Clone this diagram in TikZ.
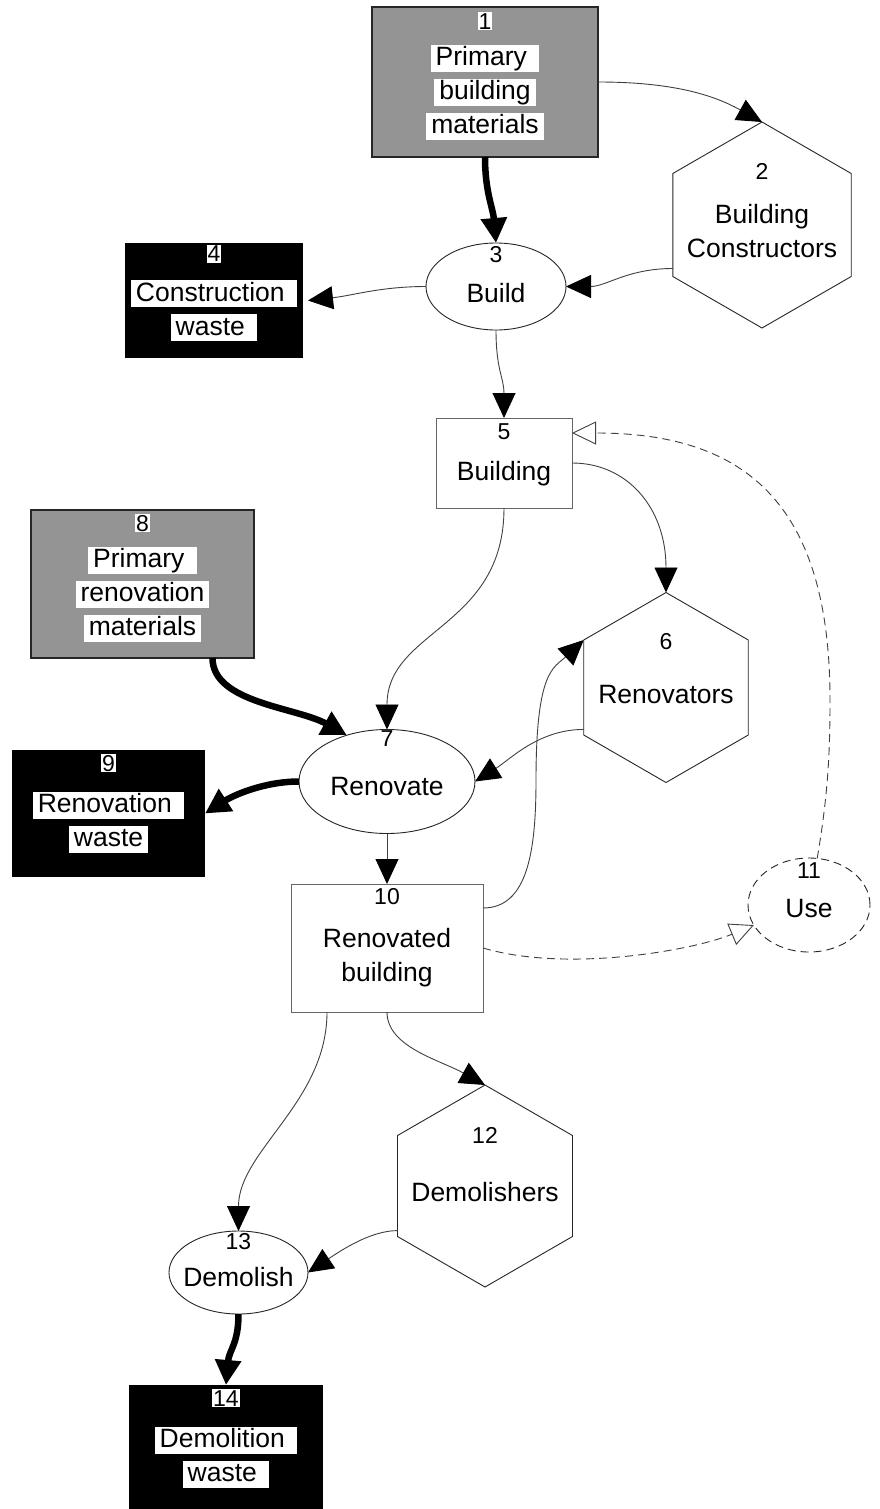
\documentclass[tikz,border=0pt]{standalone}
\usepackage{fontspec}
\setmainfont{Liberation Sans}
\usetikzlibrary{arrows.meta,shapes.geometric}

\definecolor{rawgray}{gray}{0.58}

% one text line with a fixed strut, so every line box has the same height
\newcommand\linestrut{\vrule height 21pt depth 6pt width 0pt\relax}
\newcommand\numsize{\fontsize{23}{34}\selectfont}
\newcommand\plainln[1]{\linestrut#1}
\newcommand\numplain[1]{\linestrut{\numsize #1}}
% text lines set on a white band (used inside the filled boxes)
\newcommand\hlbox[1]{\linestrut{\setlength{\fboxsep}{0pt}\colorbox{white}{\hspace{5pt}\linestrut#1\hspace{5pt}}}}
\newcommand\numhl[1]{\linestrut{\setlength{\fboxsep}{1pt}\colorbox{white}{\numsize #1}}}

\tikzset{
  base/.style={inner sep=0pt, outer sep=0pt},
  rawbox/.style={base, rectangle, draw=black!85, line width=1.2pt, fill=rawgray},
  wastebox/.style={base, rectangle, fill=black},
  stockbox/.style={base, rectangle, draw=black!60, line width=1pt, fill=white},
  actor/.style={base, regular polygon, regular polygon sides=6, shape border rotate=30,
                draw=black!85, line width=0.9pt, fill=white},
  activity/.style={base, ellipse, draw=black!85, line width=0.9pt, fill=white},
  useact/.style={activity, dash pattern=on 8pt off 5pt},
  lbl/.style={base, align=center, font=\fontsize{26.5}{34}\selectfont},
  flow/.style={draw=black!75, line width=0.9pt, -{Triangle[length=25pt, width=23pt, color=black]}},
  heavy/.style={draw=black, line width=6.5pt, -{Triangle[length=25pt, width=25pt]}},
  usage/.style={draw=black!75, line width=0.9pt, dash pattern=on 8pt off 5pt,
                -{Triangle[open, length=24pt, width=23pt, fill=white]}},
}

\begin{document}
\begin{tikzpicture}[x=1pt, y=-1pt]
\fill[white] (0,0) rectangle (879,1509);
\useasboundingbox (0,0) rectangle (879,1509);

% stocks, actors and activities
\node[rawbox, minimum width=226pt, minimum height=150pt] (n1) at (485,82) {};
\node[actor, minimum size=206pt] (n2) at (762,225) {};
\node[activity, minimum width=140pt, minimum height=87pt] (n3) at (496,286.5) {};
\node[wastebox, minimum width=178pt, minimum height=115pt] (n4) at (214,300.5) {};
\node[stockbox, minimum width=136pt, minimum height=90pt] (n5) at (504,463) {};
\node[actor, minimum size=190pt] (n6) at (666,687.5) {};
\node[activity, minimum width=176pt, minimum height=104pt] (n7) at (387,781.5) {};
\node[rawbox, minimum width=223pt, minimum height=148pt] (n8) at (142.5,584) {};
\node[wastebox, minimum width=193pt, minimum height=127pt] (n9) at (108.5,813.5) {};
\node[stockbox, minimum width=192pt, minimum height=128pt] (n10) at (387,948) {};
\node[useact, minimum width=122pt, minimum height=94pt] (n11) at (809,905) {};
\node[actor, minimum size=202pt] (n12) at (485,1186) {};
\node[activity, minimum width=139pt, minimum height=83pt] (n13) at (238.5,1272.5) {};
\node[wastebox, minimum width=194pt, minimum height=124pt] (n14) at (226,1447) {};

% bend points of the long loops
\coordinate (bend6) at (536,780);
\coordinate (bend11) at (830,700);

% flows
\draw[flow] (n1.east) .. controls +(80,0) and +(-45,-25) .. (n2.north);
\draw[heavy] (n1.south) .. controls +(0,35) and +(-3,-35) .. (n3.north);
\draw[flow] (n2.206) .. controls +(-45,0) and +(40,0) .. (n3.east);
\draw[flow] (n3.west) .. controls +(-45,0) and +(45,-5) .. ([xshift=5pt]n4.east);
\draw[flow] (n3.south) .. controls +(0,40) and +(0,-40) .. (n5.north);
\draw[flow] (n5.east) .. controls +(55,0) and +(0,-85) .. (n6.north);
\draw[flow] (n5.south) .. controls +(0,120) and +(0,-100) .. (n7.north);
\draw[heavy] ([xshift=70pt]n8.south) .. controls +(0,45) and +(-50,-28) .. (n7.131);
\draw[flow] (n6.207) .. controls +(-45,0) and +(35,-22) .. (n7.east);
\draw[heavy] (n7.west) .. controls +(-35,0) and +(28,-18) .. (n9.east);
\draw[flow] (n7.south) -- (n10.north);
\draw[flow] ([yshift=40pt]n10.east) .. controls +(45,0) and +(0,70) .. (bend6)
            .. controls +(0,-110) and +(-30,28) .. (n6.150);
\draw[usage] (n10.east) .. controls +(85,25) and +(-60,25) .. (n11.200);
\draw[usage] (n11.80) .. controls +(10,-60) and +(0,60) .. (bend11)
             .. controls +(0,-200) and +(170,0) .. ([yshift=30pt]n5.east);
\draw[flow] ([xshift=-60pt]n10.south) .. controls +(0,90) and +(0,-80) .. (n13.north);
\draw[flow] (n10.south) .. controls +(0,35) and +(-45,-25) .. (n12.north);
\draw[flow] (n12.207) .. controls +(-28,0) and +(30,-20) .. (n13.east);
\draw[heavy] (n13.south) .. controls +(0,30) and +(3,-35) .. (n14.north);

% labels
\node[lbl] (t1) at (485,74) {\numhl{1}\\[2.5pt]\hlbox{Primary\ }\\\hlbox{building}\\\hlbox{materials}};
\node[lbl] (t2) at (762,211) {\numplain{2}\\[10.5pt]\plainln{Building}\\\plainln{Constructors}};
\node[lbl] (t3) at (496,275) {\numplain{3}\\[5.5pt]\plainln{Build}};
\node[lbl] (t4) at (214,291) {\numhl{4}\\[5.5pt]\hlbox{Construction\ }\\\hlbox{waste\ }};
\node[lbl] (t5) at (504,452.5) {\numplain{5}\\[6.5pt]\plainln{Building}};
\node[lbl] (t6) at (666,669) {\numplain{6}\\[19.5pt]\plainln{Renovators}};
\node[lbl] (t7) at (387,763.5) {\numplain{7}\\[14.5pt]\plainln{Renovate}};
\node[lbl] (t8) at (142.5,576) {\numhl{8}\\[2.5pt]\hlbox{Primary\ }\\\hlbox{renovation}\\\hlbox{materials}};
\node[lbl] (t9) at (108.5,801.5) {\numhl{9}\\[7.5pt]\hlbox{Renovation\ }\\\hlbox{waste}};
\node[lbl] (t10) at (387,935.5) {\numplain{10}\\[9.5pt]\plainln{Renovated}\\\plainln{building}};
\node[lbl] (t11) at (809,890.5) {\numplain{11}\\[4.5pt]\plainln{Use}};
\node[lbl] (t12) at (485,1165) {\numplain{12}\\[23.5pt]\plainln{Demolishers}};
\node[lbl] (t13) at (238.5,1260.5) {\numplain{13}\\[2.5pt]\plainln{Demolish}};
\node[lbl] (t14) at (226,1436.5) {\numhl{14}\\[7.5pt]\hlbox{Demolition\ }\\\hlbox{waste\ }};
\end{tikzpicture}
\end{document}
